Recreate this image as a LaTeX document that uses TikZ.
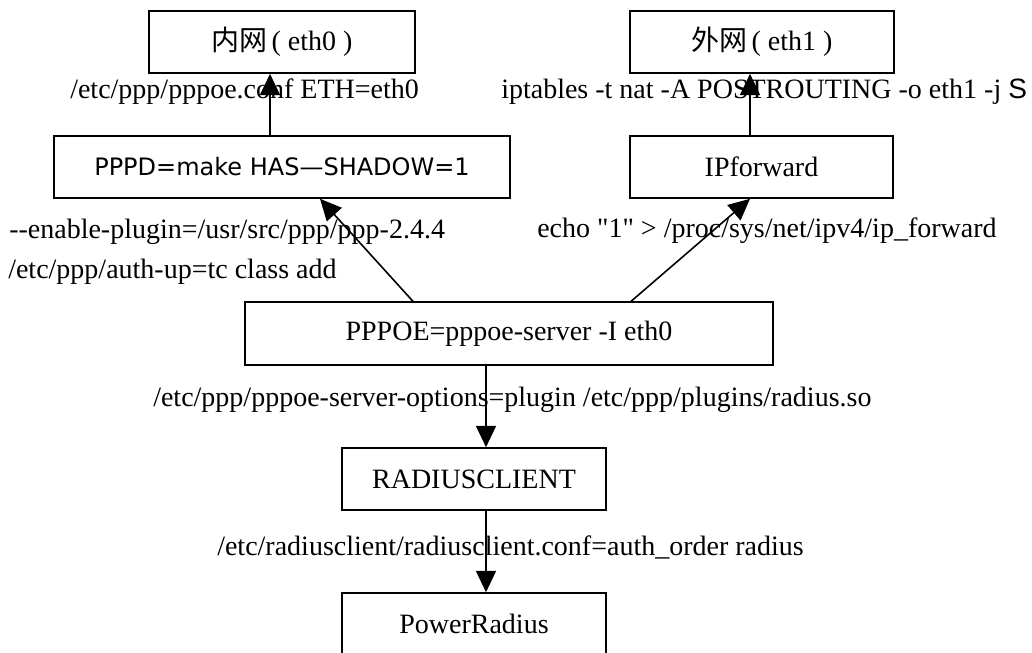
\documentclass[tikz,border=0pt]{standalone}
\usepackage{fontspec}
\setmainfont{Liberation Serif}
\newfontfamily\plainserif{Liberation Serif}
\newfontfamily\cjk{Noto Sans CJK SC}
\newfontfamily\verd{DejaVu Sans}
\newfontfamily\arial{Liberation Sans}
\usetikzlibrary{arrows.meta,calc}
\begin{document}
\begin{tikzpicture}[x=0.75pt,y=-0.75pt,
  txt/.style={font=\fontsize{21}{25}\selectfont},
  box/.style={draw,line width=1.2pt,minimum height=46.5pt,inner sep=0pt,txt},
  lbl/.style={anchor=west,inner sep=0pt,txt},
  arr/.style={line width=1.2pt,-{Triangle[length=16pt,width=15pt]}}]
\useasboundingbox (0,0) rectangle (1032,653);

% boxes
\node[box,minimum width=199.5pt] (inner) at (282,42) {{\cjk 内网}\hspace{3pt}( eth0 )};
\node[box,minimum width=198pt] (outer) at (762,42) {{\cjk 外网}\hspace{3pt}( eth1 )};
\node[box,minimum width=342pt,font=\verd\fontsize{18}{22}\selectfont] (pppd) at (282,167) {PPPD=make HAS—SHADOW=1};
\node[box,minimum width=197pt] (ipf) at (761.5,167) {IPforward};
\node[box,minimum width=396pt,minimum height=47pt] (pppoe) at (509,333.5) {PPPOE=pppoe-server -I eth0};
\node[box,minimum width=198pt] (radc) at (474,479) {RADIUSCLIENT};
\node[box,minimum width=198pt] (power) at (474,624) {PowerRadius};

% edge labels
\node[lbl] (l1) at (70,92) {/etc/ppp/pppoe.conf ETH=eth0};
\node[lbl] (l2) at (501,92) {iptables -t nat -A POSTROUTING -o eth1 -j {\arial S}};
\node[lbl] (l3) at (9,232) {-{}-enable-plugin=/usr/src/ppp/ppp-2.4.4};
\node[lbl] (l4) at (8,272) {/etc/ppp/auth-up=tc class add};
\node[lbl] (l5) at (537,231) {\plainserif echo "1" > /proc/sys/net/ipv4/ip\_forward};
\node[lbl] (l6) at (153,400) {/etc/ppp/pppoe-server-options=plugin /etc/ppp/plugins/radius.so};
\node[lbl] (l7) at (217,547) {/etc/radiusclient/radiusclient.conf=auth\_order radius};

% x positions of the connectors
\coordinate (xa) at (270,0);
\coordinate (xb) at (750,0);
\coordinate (xc) at (413,0);
\coordinate (xd) at (320,0);
\coordinate (xe) at (631,0);
\coordinate (xf) at (486,0);

% connectors
\draw[arr] (pppd.north -| xa) -- (inner.south -| xa);
\draw[arr] (ipf.north -| xb) -- (outer.south -| xb);
\draw[arr] (pppoe.north -| xc) -- (pppd.south -| xd);
\draw[arr] (pppoe.north -| xe) -- (ipf.south -| xb);
\draw[arr] (pppoe.south -| xf) -- (radc.north -| xf);
\draw[arr] (radc.south -| xf) -- (power.north -| xf);
\end{tikzpicture}
\end{document}
